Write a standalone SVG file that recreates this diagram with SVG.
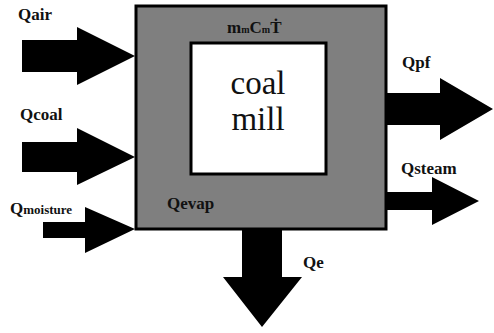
<svg xmlns="http://www.w3.org/2000/svg" width="494" height="333" viewBox="0 0 494 333">
<style>
text{font-family:"Liberation Serif","Times New Roman",serif}
.lbl{font-weight:bold;font-size:17px;fill:#111}
.big{font-size:33px;fill:#111}
.arr{fill:#000}
</style>
<rect width="494" height="333" fill="#fff"/>
<g id="mill-outer">
<rect x="136" y="6" width="250" height="223" fill="#7f7f7f" stroke="#000" stroke-width="3"/>
<text class="lbl" x="227" y="33" font-size="17">m<tspan font-size="10">m</tspan>C<tspan font-size="10">m</tspan>Ṫ</text>
<text class="lbl" x="167" y="209" fill="#222">Qevap</text>
</g>
<g id="coal-mill">
<rect x="191" y="43" width="135" height="131" fill="#fff" stroke="#000" stroke-width="3"/>
<text class="big" x="258" y="94" text-anchor="middle">coal</text>
<text class="big" x="258" y="130" text-anchor="middle">mill</text>
</g>
<g id="connectors">
<polygon class="arr" points="22,40 77,40 77,27 135,56 77,85 77,72 22,72"/>
<polygon class="arr" points="22,142 77,142 77,128 135,157 77,185 77,172 22,172"/>
<polygon class="arr" points="43,222 85,222 85,207 135,229 85,253 85,238 43,238"/>
<polygon class="arr" points="387,93 440,93 440,78 493,109 440,140 440,125 387,125"/>
<polygon class="arr" points="387,192 432,192 432,177 479,201 432,225 432,210 387,210"/>
<polygon class="arr" points="242,230 282,230 282,277 302,277 262,327 223,277 242,277"/>
</g>
<g id="labels">
<text class="lbl" x="18" y="20">Qair</text>
<text class="lbl" x="20" y="120">Qcoal</text>
<text class="lbl" x="10" y="214" font-size="20">Q<tspan font-size="13">moisture</tspan></text>
<text class="lbl" x="402" y="68">Qpf</text>
<text class="lbl" x="401" y="174">Qsteam</text>
<text class="lbl" x="303" y="268">Qe</text>
</g>
</svg>
